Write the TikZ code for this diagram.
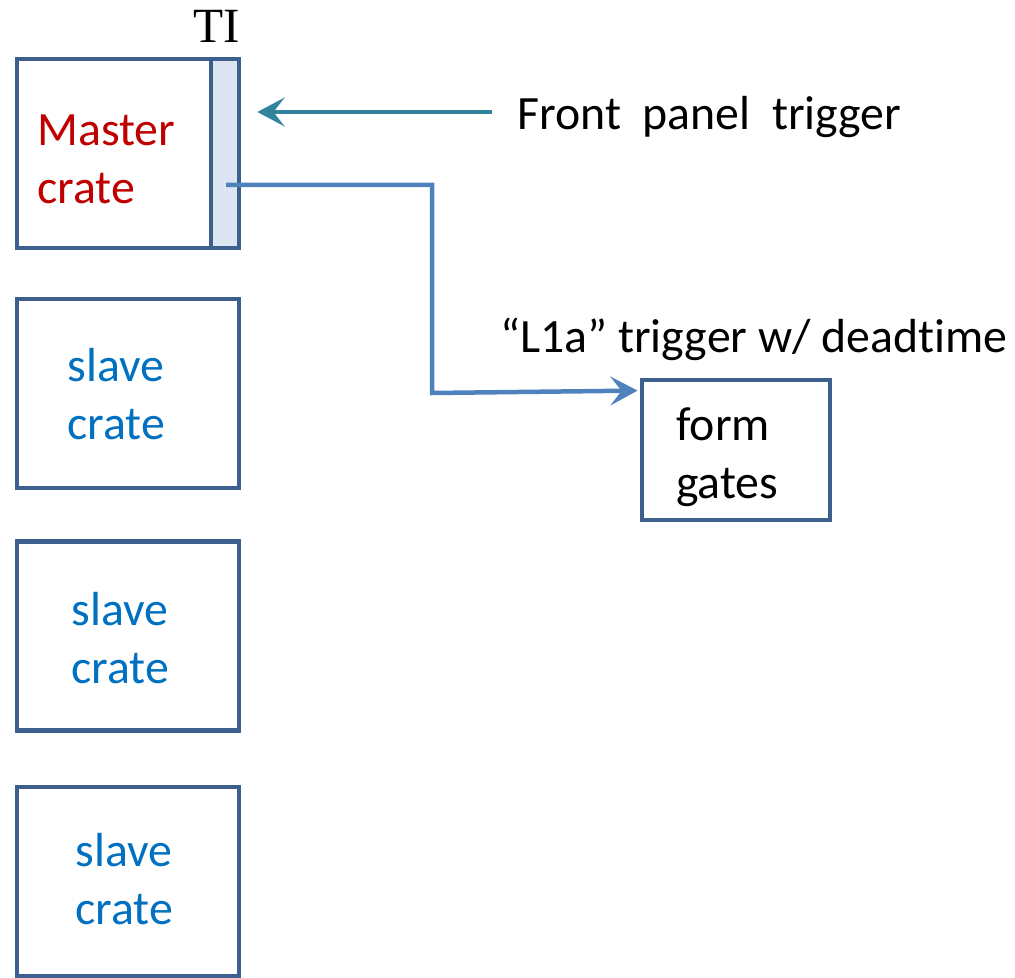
\documentclass[tikz,border=0pt]{standalone}
\usepackage{fontspec}
\setmainfont[Ligatures={TeX,NoCommon}]{Carlito}
\newfontfamily\tifont{Liberation Serif}
\usepackage{xcolor}
\usepackage{tikz}
\definecolor{CrateBorder}{HTML}{3C5F8D}
\definecolor{TIFill}{HTML}{DCE6F2}
\definecolor{PanelTeal}{HTML}{31849B}
\definecolor{LineBlue}{HTML}{4F81BD}
\definecolor{MasterRed}{HTML}{C00000}
\definecolor{SlaveBlue}{HTML}{0070C0}
\usetikzlibrary{arrows.meta,positioning,calc}
\newcommand{\bigtext}[0]{\fontsize{34}{41}\selectfont}

\begin{document}
\begin{tikzpicture}[x=0.025cm, y=-0.025cm, >={Stealth[length=0.68cm,width=0.72cm,inset=0.28cm]},
    crate/.style={rectangle, draw=CrateBorder, line width=3.4pt, minimum width=5.55cm, minimum height=4.725cm, inner sep=0pt},
    tistrip/.style={crate, fill=TIFill, minimum width=0.7cm},
    cratetext/.style={font=\bigtext, inner sep=0pt},
    signal/.style={->, line width=3.2pt}]
\useasboundingbox (0,0) rectangle (1015,978);

%draw the master crate with its TI
\node[crate] (master) at (128,153.5){};
\node[tistrip] (ti) at (225,153.5){};
\node[cratetext, text=MasterRed, align=left, anchor=west] (mastertext) at (37,159.5){Master\\crate};
\node[font=\tifont\fontsize{35}{40}\selectfont, inner sep=0pt, anchor=base] (tilabel) at (217,43){TI};

%draw the slave crate stack
\foreach \y/\tx/\ty[count=\c] in {393.5/116/394, 636/120/638, 881.5/124/879}{
    \node[crate] (slave\c) at (128,\y){};
    \node[cratetext, text=SlaveBlue, align=center] (slavetext\c) at (\tx,\ty){slave\\crate};
}

% gate former
\node[crate, minimum width=4.7cm, minimum height=3.5cm] (gates) at (736,450){};
\node[cratetext, align=left, anchor=west] (gatestext) at (676,457){form\\gates};

% trigger labels
\node[font=\bigtext, inner sep=0pt, anchor=base west] (fpt) at (517,130){Front~~panel~~trigger};
\node[font=\bigtext, inner sep=0pt, anchor=base west] (l1a) at (500,353){“L1a” trigger w/ deadtime};

%draw the trigger lines
\coordinate (fptin) at (492,112);
\coordinate (l1out) at (226,185);
\draw[signal, draw=PanelTeal, shorten >=0.4cm] (fptin) -- (ti.east |- fptin);
\draw[signal, draw=LineBlue, shorten >=0.05cm] (l1out) -| (432,393) -- ($(gates.north west)+(0,13)$);
\end{tikzpicture}
\end{document}
